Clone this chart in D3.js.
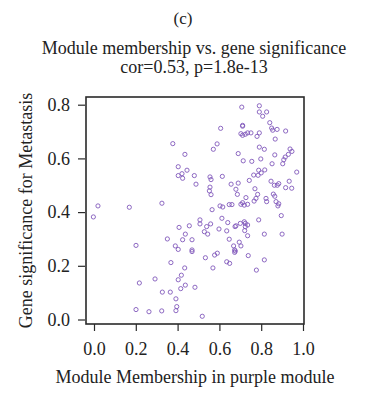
<!DOCTYPE html>
<html>
<head>
<meta charset="utf-8">
<script src="https://cdn.jsdelivr.net/npm/d3@7"></script>
<style>
  body { margin: 0; background: #fff; }
</style>
</head>
<body>
<div id="chart"></div>
<script>
// module membership (x) and gene significance (y), one entry per gene
var mmX = [
  -0.003, 0.019, 0.169, 0.325, 0.377, 0.435, 0.403, 0.445, 0.421, 0.403, 0.424, 0.480, 0.488,
  0.707, 0.791, 0.791, 0.826, 0.807, 0.841, 0.850, 0.876, 0.855, 0.917, 0.867, 0.606, 0.711,
  0.711, 0.703, 0.711, 0.724, 0.735, 0.751, 0.780, 0.791, 0.571, 0.589, 0.791, 0.815, 0.690,
  0.714, 0.755, 0.798, 0.865, 0.938, 0.947, 0.930, 0.915, 0.908, 0.903, 0.852, 0.970, 0.817,
  0.788, 0.800, 0.785, 0.764, 0.743, 0.690, 0.656, 0.614, 0.555, 0.560, 0.555, 0.552, 0.560,
  0.679, 0.686, 0.770, 0.783, 0.847, 0.863, 0.877, 0.884, 0.917, 0.934, 0.946, 0.858, 0.865,
  0.727, 0.766, 0.775, 0.823, 0.826, 0.871, 0.884, 0.880, 0.711, 0.719, 0.735, 0.703, 0.647,
  0.660, 0.603, 0.616, 0.565,
  0.507, 0.507, 0.539, 0.558, 0.528, 0.544, 0.612, 0.640, 0.598, 0.635, 0.675, 0.679, 0.700,
  0.719, 0.724, 0.735, 0.724, 0.721, 0.735, 0.788, 0.815, 0.896, 0.900, 0.647, 0.695, 0.668,
  0.703, 0.673, 0.673, 0.676, 0.738, 0.533, 0.577, 0.590, 0.635, 0.649, 0.569, 0.815, 0.777,
  0.518,
  0.407, 0.456, 0.437, 0.351, 0.424, 0.469, 0.201, 0.389, 0.403, 0.469, 0.469, 0.368, 0.434,
  0.418, 0.403, 0.292, 0.437, 0.415, 0.483, 0.217, 0.327, 0.365, 0.392, 0.396, 0.392, 0.201,
  0.263, 0.324
];
var gsY = [
  0.382, 0.423, 0.418, 0.433, 0.655, 0.615, 0.569, 0.556, 0.543, 0.536, 0.526, 0.536, 0.504,
  0.791, 0.796, 0.773, 0.773, 0.757, 0.733, 0.713, 0.708, 0.705, 0.702, 0.672, 0.712, 0.723,
  0.720, 0.692, 0.686, 0.690, 0.695, 0.695, 0.682, 0.695, 0.634, 0.654, 0.642, 0.634, 0.618,
  0.591, 0.589, 0.598, 0.613, 0.635, 0.626, 0.615, 0.605, 0.595, 0.580, 0.580, 0.549, 0.557,
  0.556, 0.546, 0.537, 0.538, 0.518, 0.508, 0.504, 0.533, 0.531, 0.521, 0.493, 0.479, 0.465,
  0.485, 0.466, 0.487, 0.466, 0.515, 0.500, 0.500, 0.506, 0.491, 0.515, 0.489, 0.467, 0.459,
  0.454, 0.441, 0.451, 0.451, 0.439, 0.439, 0.431, 0.423, 0.435, 0.426, 0.429, 0.429, 0.428,
  0.428, 0.423, 0.419, 0.409,
  0.371, 0.356, 0.346, 0.356, 0.327, 0.318, 0.377, 0.361, 0.337, 0.330, 0.346, 0.349, 0.358,
  0.364, 0.358, 0.352, 0.346, 0.331, 0.312, 0.371, 0.318, 0.387, 0.318, 0.299, 0.288, 0.274,
  0.274, 0.259, 0.250, 0.255, 0.238, 0.230, 0.240, 0.247, 0.215, 0.209, 0.192, 0.222, 0.184,
  0.012,
  0.343, 0.349, 0.318, 0.300, 0.297, 0.297, 0.276, 0.274, 0.261, 0.259, 0.253, 0.212, 0.192,
  0.165, 0.148, 0.151, 0.128, 0.115, 0.120, 0.136, 0.102, 0.102, 0.077, 0.048, 0.033, 0.037,
  0.029, 0.032
];

var xTicks = [0, 0.2, 0.4, 0.6, 0.8, 1.0];
var yTicks = [0, 0.2, 0.4, 0.6, 0.8];

var panelLabel = "(c)";
var titleLines = ["Module membership vs. gene significance", "cor=0.53, p=1.8e-13"];
var xTitle = "Module Membership in purple module";
var yTitle = "Gene significance for Metastasis";

var FONT = "\"Liberation Serif\", \"Times New Roman\", serif";
var W = 366, H = 393;
// plot box (R style, data range padded a little)
var box = {left: 86, right: 304, top: 97, bottom: 324};

var x = d3.scaleLinear().domain([0, 1]).range([94, 303]);
var y = d3.scaleLinear().domain([0, 0.8]).range([319.5, 104.7]);

var svg = d3.select("#chart").append("svg")
    .attr("width", W)
    .attr("height", H)
    .attr("font-family", FONT);

function label(sel, size) {
  return sel.attr("font-family", FONT)
    .attr("font-size", size)
    .attr("fill", "#222");
}

label(svg.append("text"), 17)
    .attr("x", 183).attr("y", 24)
    .attr("text-anchor", "middle")
    .text(panelLabel);

label(svg.selectAll(".title")
    .data(titleLines)
    .enter().append("text")
    .attr("class", "title"), 18)
    .attr("x", (box.left + box.right) / 2 - 1)
    .attr("y", function(d, i) { return 53.5 + i * 19.5; })
    .attr("text-anchor", "middle")
    .text(function(d) { return d; });

// points
svg.append("g").selectAll("circle")
    .data(mmX)
    .enter().append("circle")
    .attr("cx", function(d) { return x(d); })
    .attr("cy", function(d, i) { return y(gsY[i]); })
    .attr("r", 2.1)
    .attr("fill", "none")
    .attr("stroke", "#8159bb")
    .attr("stroke-width", 0.9);

svg.append("rect")
    .attr("x", box.left).attr("y", box.top)
    .attr("width", box.right - box.left)
    .attr("height", box.bottom - box.top)
    .attr("fill", "none")
    .attr("stroke", "#2a2a2a")
    .attr("stroke-width", 1.6);

var xAxis = svg.append("g")
    .attr("transform", "translate(0," + box.bottom + ")")
    .call(d3.axisBottom(x).tickValues(xTicks).tickFormat(d3.format(".1f"))
      .tickSize(7).tickPadding(11).tickSizeOuter(0));

var yAxis = svg.append("g")
    .attr("transform", "translate(" + (box.left - 1) + ",0)")
    .call(d3.axisLeft(y).tickValues(yTicks).tickFormat(d3.format(".1f"))
      .tickSize(7).tickPadding(8).tickSizeOuter(0));

[xAxis, yAxis].forEach(function(a) {
  a.attr("font-family", FONT).attr("font-size", 18);
  a.select(".domain").remove();
  a.selectAll("line").attr("stroke", "#2a2a2a").attr("stroke-width", 1.2);
  a.selectAll("text").attr("fill", "#222");
});

label(svg.append("text"), 18)
    .attr("x", 195).attr("y", 383)
    .attr("text-anchor", "middle")
    .text(xTitle);

label(svg.append("text"), 18)
    .attr("transform", "translate(32," + (box.top + box.bottom) / 2 + ") rotate(-90)")
    .attr("text-anchor", "middle")
    .text(yTitle);
</script>
</body>
</html>
